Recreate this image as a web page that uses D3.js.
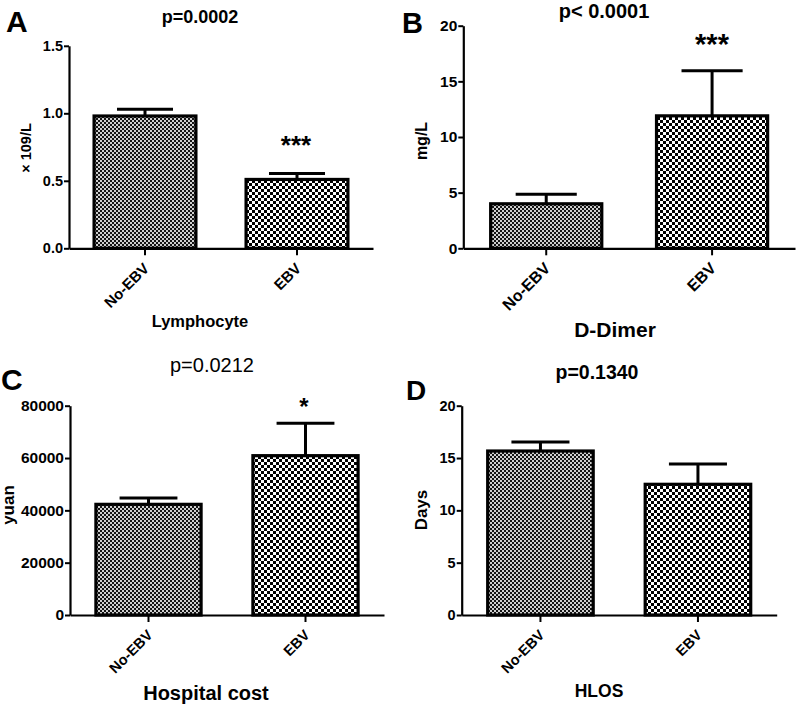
<!DOCTYPE html>
<html>
<head>
<meta charset="utf-8">
<script src="https://cdn.jsdelivr.net/npm/d3@7"></script>
<style>
  html, body { margin: 0; padding: 0; background: #fff; }
  svg { display: block; }
  text { font-family: "Liberation Sans", Arial, Helvetica, sans-serif; fill: #000; }
</style>
</head>
<body>
<script>
// ---------------- DATA ----------------
const categories = ["No-EBV", "EBV"];

const lymphocyteMean = [0.98, 0.51];
const lymphocyteErr  = [0.05, 0.045];
const lymphocyteTicks = [0, 0.5, 1.0, 1.5];

const dDimerMean = [4.0, 11.9];
const dDimerErr  = [0.85, 4.05];
const dDimerTicks = [0, 5, 10, 15, 20];

const costMean = [42300, 60900];
const costErr  = [2400, 12400];
const costTicks = [0, 20000, 40000, 60000, 80000];

const hlosMean = [15.67, 12.49];
const hlosErr  = [0.85, 1.94];
const hlosTicks = [0, 5, 10, 15, 20];

const panelLetters = ["A", "B", "C", "D"];
const pLabels = ["p=0.0002", "p< 0.0001", "p=0.0212", "p=0.1340"];
const starLabels = ["***", "***", "*", ""];
const yTitles = ["\u00d7 109/L", "mg/L", "yuan", "Days"];
const xTitles = ["Lymphocyte", "D-Dimer", "Hospital cost", "HLOS"];

// ---------------- LAYOUT ----------------
const W = 797, H = 707;
const svg = d3.select("body").append("svg").attr("width", W).attr("height", H);

const defs = svg.append("defs");
// fine checker (No-EBV)
const fine = defs.append("pattern").attr("id", "fine").attr("patternUnits", "userSpaceOnUse")
  .attr("width", 4).attr("height", 4);
fine.append("rect").attr("width", 4).attr("height", 4).attr("fill", "#141414");
fine.append("rect").attr("x", 0).attr("y", 0).attr("width", 2).attr("height", 2).attr("fill", "#cfcfcf");
fine.append("rect").attr("x", 2).attr("y", 2).attr("width", 2).attr("height", 2).attr("fill", "#cfcfcf");
// coarse checker (EBV)
const coarse = defs.append("pattern").attr("id", "coarse").attr("patternUnits", "userSpaceOnUse")
  .attr("width", 6).attr("height", 6);
coarse.append("rect").attr("width", 6).attr("height", 6).attr("fill", "#fff");
coarse.append("rect").attr("x", 0).attr("y", 0).attr("width", 3).attr("height", 3).attr("fill", "#000");
coarse.append("rect").attr("x", 3).attr("y", 3).attr("width", 3).attr("height", 3).attr("fill", "#000");

const panels = [
  { mean: lymphocyteMean, err: lymphocyteErr, ticks: lymphocyteTicks, fmt: d3.format(".1f"),
    x0: 69, x1: 373, y0: 248.3, y1: 45.8, tickFont: 14.5, catFont: 15,
    letter: { x: 6, y: 31.5, size: 30 },
    p: { x: 200, y: 22.5, size: 18, weight: "bold" },
    star: { x: 296, y: 154, size: 26 },
    yTitle: { x: 31, y: 148, size: 14.5 },
    xTitle: { x: 200, y: 327, size: 16.5 } },
  { mean: dDimerMean, err: dDimerErr, ticks: dDimerTicks, fmt: d3.format("d"),
    x0: 463.3, x1: 795, y0: 248.3, y1: 25.7, tickFont: 15.5, catFont: 16,
    letter: { x: 402, y: 33, size: 29 },
    p: { x: 604, y: 18, size: 20, weight: "bold" },
    star: { x: 712, y: 54, size: 29 },
    yTitle: { x: 427, y: 141, size: 16 },
    xTitle: { x: 615, y: 336.5, size: 21 } },
  { mean: costMean, err: costErr, ticks: costTicks, fmt: d3.format("d"),
    x0: 70, x1: 384, y0: 615, y1: 405.7, tickFont: 15.5, catFont: 14.5,
    letter: { x: 1, y: 390, size: 30 },
    p: { x: 212, y: 371.5, size: 20, weight: "normal" },
    star: { x: 304, y: 415, size: 24 },
    yTitle: { x: 14, y: 505, size: 17 },
    xTitle: { x: 206, y: 700, size: 20 } },
  { mean: hlosMean, err: hlosErr, ticks: hlosTicks, fmt: d3.format("d"),
    x0: 461.7, x1: 776.7, y0: 615, y1: 405.7, tickFont: 14.5, catFont: 14.5,
    letter: { x: 406, y: 400, size: 28 },
    p: { x: 597, y: 379, size: 19.5, weight: "bold" },
    star: { x: 698, y: 420, size: 24 },
    yTitle: { x: 427, y: 510, size: 17 },
    xTitle: { x: 599, y: 697, size: 17.5 } }
];

panels.forEach((cfg, pi) => {
  const g = svg.append("g");
  const x = d3.scaleBand().domain(categories).range([cfg.x0, cfg.x1])
    .paddingInner(0.33).paddingOuter(0.165);
  const y = d3.scaleLinear().domain([0, d3.max(cfg.ticks)]).range([cfg.y0, cfg.y1]);
  const data = categories.map((c, i) => ({ c, m: cfg.mean[i], e: cfg.err[i], i }));

  // bars
  g.selectAll("rect.bar").data(data).join("rect")
    .attr("class", "bar")
    .attr("x", d => x(d.c))
    .attr("y", d => y(d.m))
    .attr("width", x.bandwidth())
    .attr("height", d => y(0) - y(d.m))
    .attr("fill", d => d.i === 0 ? "url(#fine)" : "url(#coarse)")
    .attr("stroke", "#000").attr("stroke-width", 3.2);

  // error bars
  const cw = x.bandwidth() * 0.55;
  g.selectAll("line.ev").data(data).join("line")
    .attr("class", "ev")
    .attr("x1", d => x(d.c) + x.bandwidth() / 2).attr("x2", d => x(d.c) + x.bandwidth() / 2)
    .attr("y1", d => y(d.m)).attr("y2", d => y(d.m + d.e))
    .attr("stroke", "#000").attr("stroke-width", 3);
  g.selectAll("line.cap").data(data).join("line")
    .attr("class", "cap")
    .attr("x1", d => x(d.c) + x.bandwidth() / 2 - cw / 2)
    .attr("x2", d => x(d.c) + x.bandwidth() / 2 + cw / 2)
    .attr("y1", d => y(d.m + d.e)).attr("y2", d => y(d.m + d.e))
    .attr("stroke", "#000").attr("stroke-width", 3);

  // y axis
  const ya = g.append("g").attr("transform", `translate(${cfg.x0},0)`)
    .call(d3.axisLeft(y).tickValues(cfg.ticks).tickFormat(cfg.fmt).tickSize(5).tickSizeOuter(0).tickPadding(1));
  ya.select(".domain").attr("stroke", "#000").attr("stroke-width", 2.2);
  ya.selectAll(".tick line").attr("stroke", "#000").attr("stroke-width", 2);
  ya.selectAll(".tick text").attr("font-size", cfg.tickFont).attr("font-weight", "bold")
    .attr("font-family", "'Liberation Sans', Arial, sans-serif").attr("fill", "#000");

  // x axis
  const xa = g.append("g").attr("transform", `translate(0,${cfg.y0})`)
    .call(d3.axisBottom(x).tickSize(7).tickSizeOuter(0));
  xa.select(".domain").attr("stroke", "#000").attr("stroke-width", 2.2);
  xa.selectAll(".tick line").attr("stroke", "#000").attr("stroke-width", 2);
  xa.selectAll(".tick text")
    .attr("font-size", cfg.catFont).attr("font-weight", "bold")
    .attr("font-family", "'Liberation Sans', Arial, sans-serif").attr("fill", "#000")
    .attr("text-anchor", "end").attr("dy", null).attr("y", null)
    .attr("transform", "translate(5,21) rotate(-45)");

  // panel letter
  g.append("text").attr("x", cfg.letter.x).attr("y", cfg.letter.y)
    .attr("font-size", cfg.letter.size).attr("font-weight", "bold").text(panelLetters[pi]);
  // p-value
  g.append("text").attr("x", cfg.p.x).attr("y", cfg.p.y).attr("text-anchor", "middle")
    .attr("font-size", cfg.p.size).attr("font-weight", cfg.p.weight).text(pLabels[pi]);
  // significance stars
  if (starLabels[pi]) {
    g.append("text").attr("x", cfg.star.x).attr("y", cfg.star.y).attr("text-anchor", "middle")
      .attr("font-size", cfg.star.size).attr("font-weight", "bold").text(starLabels[pi]);
  }
  // y title
  g.append("text").attr("transform", `translate(${cfg.yTitle.x},${cfg.yTitle.y}) rotate(-90)`)
    .attr("text-anchor", "middle").attr("font-size", cfg.yTitle.size).attr("font-weight", "bold")
    .text(yTitles[pi]);
  // x title
  g.append("text").attr("x", cfg.xTitle.x).attr("y", cfg.xTitle.y).attr("text-anchor", "middle")
    .attr("font-size", cfg.xTitle.size).attr("font-weight", "bold").text(xTitles[pi]);
});
</script>
</body>
</html>
